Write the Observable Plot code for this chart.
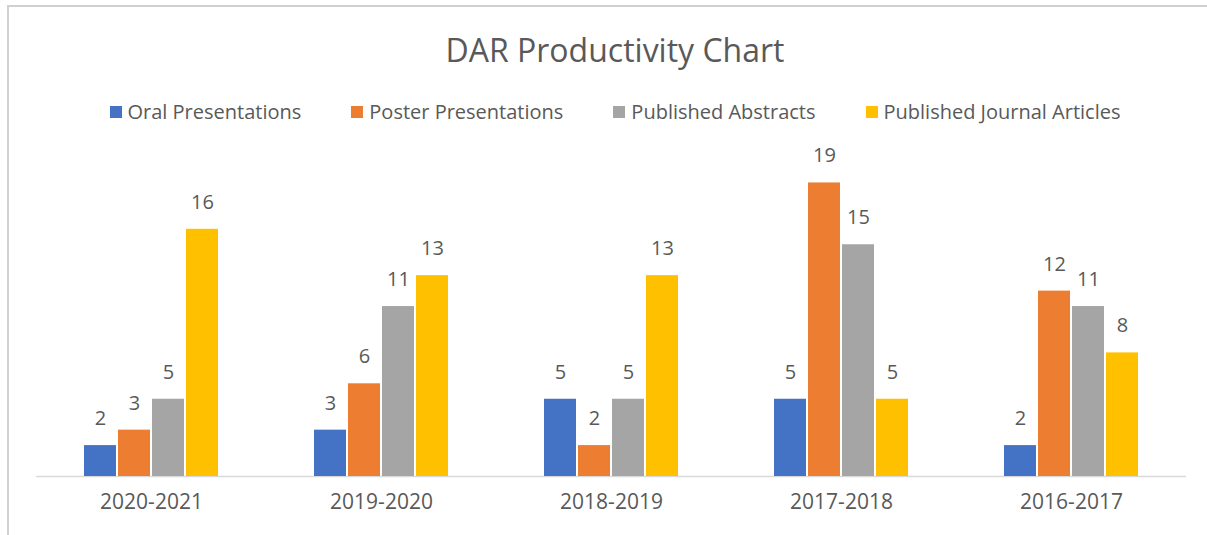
<!DOCTYPE html>
<html>
<head>
<meta charset="utf-8">
<script src="https://cdn.jsdelivr.net/npm/d3@7"></script>
<script src="https://cdn.jsdelivr.net/npm/@observablehq/plot@0.6"></script>
<style>
  html, body { margin: 0; padding: 0; background: #fff; overflow: hidden; }
  body { width: 1207px; height: 535px; position: relative; font-family: "Open Sans", "Noto Sans", sans-serif; }
  #frame { position: absolute; left: 7px; top: 5px; width: 1300px; height: 600px;
           border-left: 2px solid #D0D0D0; border-top: 2px solid #D0D0D0; box-sizing: border-box; }
  #title { position: absolute; left: 8px; width: 1214px; top: 28px; text-align: center;
           font-size: 32px; line-height: 44px; color: #595959; }
  #legend { position: absolute; left: 8px; width: 1214px; top: 98px; display: flex; justify-content: center;
            gap: 50px; font-size: 20px; line-height: 28px; color: #595959; }
  .item { display: flex; align-items: center; }
  .sw { width: 12px; height: 12px; margin-right: 6px; }
  #chart { position: absolute; left: 0; top: 135px; }
</style>
</head>
<body>
<div id="frame"></div>
<div id="title">DAR Productivity Chart</div>
<div id="legend"></div>
<div id="chart"></div>
<script>
const years = ["2020-2021", "2019-2020", "2018-2019", "2017-2018", "2016-2017"];
const seriesNames = ["Oral Presentations", "Poster Presentations", "Published Abstracts", "Published Journal Articles"];
const colors = ["#4472C4", "#ED7D31", "#A5A5A5", "#FFC000"];
const oral = [2, 3, 5, 5, 2];
const poster = [3, 6, 2, 19, 12];
const abstracts = [5, 11, 5, 15, 11];
const journal = [16, 13, 13, 5, 8];

const seriesValues = [oral, poster, abstracts, journal];
const data = [];
years.forEach((yr, i) => {
  seriesNames.forEach((s, j) => data.push({year: yr, series: s, value: seriesValues[j][i]}));
});

// legend
const legend = document.getElementById("legend");
seriesNames.forEach((s, j) => {
  const it = document.createElement("div");
  it.className = "item";
  it.innerHTML = `<span class="sw" style="background:${colors[j]}"></span><span>${s}</span>`;
  legend.appendChild(it);
});

const plot = Plot.plot({
  width: 1207,
  height: 400,
  marginLeft: 36,
  marginRight: 21,
  marginTop: 32,
  marginBottom: 59,
  style: {fontSize: "21px", fontFamily: "'Open Sans', 'Noto Sans', sans-serif", color: "#595959", background: "transparent"},
  fx: {domain: years, padding: 0, label: null, tickSize: 0, tickPadding: 18},
  x: {domain: seriesNames, paddingInner: 0.05, paddingOuter: 1.4, axis: null},
  y: {domain: [0, 20], axis: null},
  color: {domain: seriesNames, range: colors},
  marks: [
    Plot.ruleY([0], {stroke: "#D9D9D9", strokeWidth: 1.5}),
    Plot.barY(data, {fx: "year", x: "series", y: "value", fill: "series"}),
    Plot.text(data, {fx: "year", x: "series", y: "value", text: d => String(d.value), dy: -27, fill: "#595959", fontSize: 20})
  ]
});
document.getElementById("chart").appendChild(plot);
</script>
</body>
</html>
